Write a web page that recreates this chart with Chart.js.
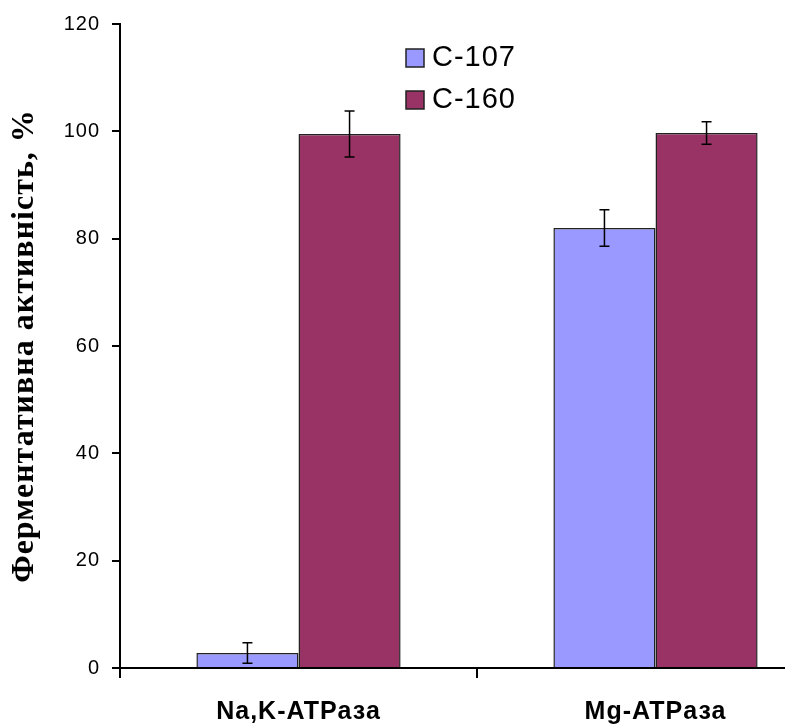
<!DOCTYPE html>
<html>
<head>
<meta charset="utf-8">
<script src="https://cdn.jsdelivr.net/npm/chart.js@4"></script>
<style>
  html, body { margin: 0; padding: 0; background: #fff; overflow: hidden; }
  #wrap { width: 785px; height: 724px; overflow: hidden; }
  #box { width: 860px; height: 724px; }
</style>
</head>
<body>
<div id="wrap"><div id="box"><canvas id="atpChart"></canvas></div></div>
<script>
// categories and series
const categories = ['Na,K-ATPаза', 'Mg-ATPаза'];
const seriesNames = ['C-107', 'C-160'];
const c107 = [2.8, 82.0];
const c160 = [99.5, 99.7];
const c107Err = [1.9, 3.4];
const c160Err = [4.3, 2.1];
const yTicks = [0, 20, 40, 60, 80, 100, 120];

const errors = [c107Err, c160Err];

// wider text, like the old GDI rendering
const spacingPlugin = {
  id: 'spacing',
  beforeDraw(chart) {
    chart.ctx.letterSpacing = '1px';
  }
};

// error bars on top of each bar
const errorBarPlugin = {
  id: 'errorBars',
  afterDatasetsDraw(chart) {
    const ctx = chart.ctx;
    const yScale = chart.scales.y;
    ctx.save();
    ctx.strokeStyle = '#000';
    ctx.lineWidth = 1.5;
    chart.data.datasets.forEach((ds, i) => {
      const meta = chart.getDatasetMeta(i);
      meta.data.forEach((bar, j) => {
        const v = ds.data[j];
        const e = errors[i][j];
        const top = yScale.getPixelForValue(v + e);
        const bottom = yScale.getPixelForValue(v - e);
        ctx.beginPath();
        ctx.moveTo(bar.x, top);
        ctx.lineTo(bar.x, bottom);
        ctx.moveTo(bar.x - 5, top);
        ctx.lineTo(bar.x + 5, top);
        ctx.moveTo(bar.x - 5, bottom);
        ctx.lineTo(bar.x + 5, bottom);
        ctx.stroke();
      });
    });
    ctx.restore();
  }
};

// vertical legend inside the plot
const legendPlugin = {
  id: 'boxLegend',
  afterDraw(chart) {
    const ctx = chart.ctx;
    ctx.save();
    chart.data.datasets.forEach((ds, i) => {
      const y = 49 + i * 42;
      ctx.fillStyle = ds.backgroundColor;
      ctx.fillRect(406, y, 18, 18);
      ctx.strokeStyle = '#222';
      ctx.lineWidth = 1.5;
      ctx.strokeRect(406, y, 18, 18);
      ctx.fillStyle = '#000';
      ctx.font = '29px "Liberation Sans", Arial, sans-serif';
      ctx.textBaseline = 'middle';
      ctx.fillText(ds.label, 432, y + 9);
    });
    ctx.restore();
  }
};

const ctx = document.getElementById('atpChart').getContext('2d');
new Chart(ctx, {
  type: 'bar',
  data: {
    labels: categories,
    datasets: [
      {
        label: seriesNames[0],
        data: c107,
        backgroundColor: '#9999FF',
        borderColor: '#222222',
        borderWidth: 1.5
      },
      {
        label: seriesNames[1],
        data: c160,
        backgroundColor: '#993366',
        borderColor: '#222222',
        borderWidth: 1.5
      }
    ]
  },
  options: {
    responsive: true,
    maintainAspectRatio: false,
    animation: false,
    layout: { padding: { top: 24, right: 26, left: 0, bottom: 0 } },
    datasets: {
      bar: { categoryPercentage: 0.572, barPercentage: 1.0 }
    },
    plugins: {
      legend: { display: false },
      tooltip: { enabled: false }
    },
    scales: {
      x: {
        afterFit(scale) { scale.height = 56; },
        border: { display: true, color: '#000', width: 2 },
        grid: {
          offset: true,
          drawOnChartArea: false,
          drawTicks: true,
          tickLength: 10,
          color: '#000',
          lineWidth: 2
        },
        ticks: {
          color: '#000',
          padding: 19,
          font: { family: '"Liberation Sans", Arial, sans-serif', size: 25, weight: 'bold' }
        }
      },
      y: {
        min: 0,
        max: 120,
        afterFit(scale) { scale.width = 120; },
        afterBuildTicks(scale) { scale.ticks = yTicks.map(v => ({ value: v })); },
        border: { display: true, color: '#000', width: 2 },
        grid: {
          drawOnChartArea: false,
          drawTicks: true,
          tickLength: 8,
          color: '#000',
          lineWidth: 2
        },
        ticks: {
          color: '#000',
          padding: 12,
          font: { family: '"Liberation Sans", Arial, sans-serif', size: 20 }
        },
        title: {
          display: true,
          text: 'Ферментативна активність, %',
          color: '#000',
          padding: { top: 6, bottom: 0 },
          font: { family: '"Liberation Serif", "Times New Roman", serif', size: 32, weight: 'bold' }
        }
      }
    }
  },
  plugins: [spacingPlugin, errorBarPlugin, legendPlugin]
});
</script>
</body>
</html>
